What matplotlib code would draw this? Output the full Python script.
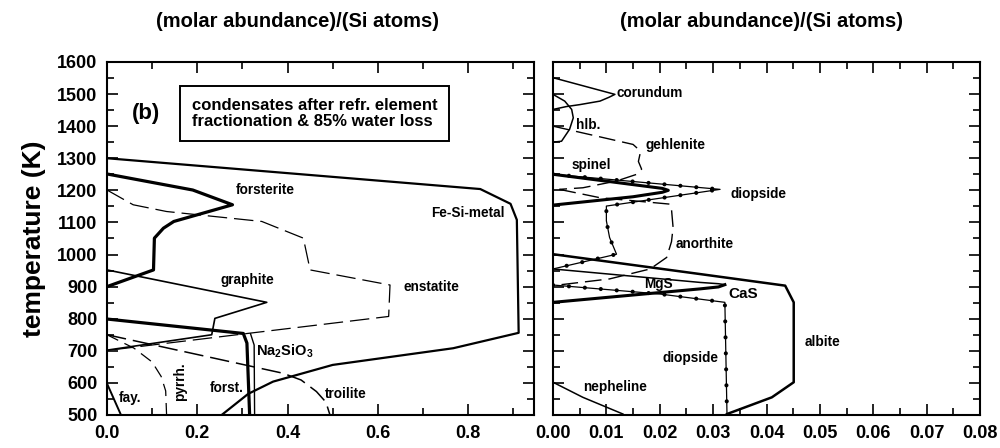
import numpy as np
import matplotlib
matplotlib.use("Agg")
import matplotlib.pyplot as plt
from matplotlib.ticker import MultipleLocator, FormatStrFormatter

plt.rcParams["font.family"] = ["Liberation Sans", "DejaVu Sans"]
plt.rcParams["font.weight"] = "bold"
plt.rcParams["mathtext.fontset"] = "custom"
plt.rcParams["mathtext.bf"] = "Liberation Sans:bold"
plt.rcParams["mathtext.rm"] = "Liberation Sans:bold"
plt.rcParams["lines.scale_dashes"] = False

# ---- left panel: major phases (x = mol / Si, T in K) ----
fesi_x = [0, 0.827, 0.894, 0.908, 0.912, 0.767, 0.50, 0.368, 0.313, 0.254]
fesi_T = [1300, 1204, 1158, 1108, 756, 708, 656, 604, 566, 500]

forst1_x = [0, 0.190, 0.278, 0.148, 0.125, 0.105, 0.103, 0]
forst1_T = [1251, 1201, 1155, 1103, 1082, 1051, 952, 900]

enst_x = [0, 0.058, 0.132, 0.343, 0.435, 0.450, 0.627, 0.624, 0.317, 0]
enst_T = [1201, 1155, 1134, 1103, 1051, 952, 905, 807, 755, 701]

graph_x = [0, 0.354, 0.239, 0.232, 0]
graph_T = [952, 851, 801, 750, 702]

forst2_x = [0, 0.302, 0.310, 0.316]
forst2_T = [799, 754, 724, 500]

na2_x = [0.318, 0.326, 0.327]
na2_T = [753, 718, 500]

troil_x = [0, 0.26, 0.39, 0.43, 0.464, 0.485, 0.494]
troil_T = [750, 670, 630, 609, 573, 540, 500]

pyrrh_x = [0, 0.06, 0.10, 0.12, 0.130, 0.132]
pyrrh_T = [750, 708, 665, 620, 575, 500]

fay_x = [0, 0.031]
fay_T = [598, 500]

# ---- right panel: minor phases ----
cor_x = [0, 0.0116, 0.0105, 0.0088, 0.005, 0.0025, 0]
cor_T = [1551, 1499, 1490, 1478, 1467, 1461, 1452]

hib_x = [0, 0.0022, 0.0035, 0.0038, 0.0031, 0.0016, 0]
hib_T = [1499, 1478, 1452, 1426, 1390, 1353, 1350]

gehl_x = [0, 0.015, 0.016, 0.0163, 0.0160, 0.0166, 0.0157, 0.0119, 0.0056, 0.0012]
gehl_T = [1400, 1343, 1328, 1313, 1290, 1266, 1250, 1229, 1208, 1203]

spin_x = [0, 0.0205, 0.0216, 0.0205, 0.015, 0]
spin_T = [1250, 1206, 1200, 1194, 1180, 1154]

diop1_x = [0, 0.0313, 0.0125, 0.010, 0.010, 0.0106, 0.0119, 0]
diop1_T = [1250, 1203, 1157, 1151, 1105, 1053, 1001, 955]

anor_x = [0.0012, 0.0088, 0.0219, 0.0222, 0.0225, 0.0222, 0.0213, 0.0182, 0.0106, 0]
anor_T = [1203, 1177, 1157, 1141, 1084, 1040, 991, 955, 924, 903]

mgs_x = [0, 0.0276, 0.031, 0.0322]
mgs_T = [955, 913, 909, 906]

cas_x = [0.0322, 0.031, 0.0276, 0]
cas_T = [906, 899, 893, 851]

alb_x = [0, 0.0276, 0.0435, 0.0451, 0.0451, 0.041, 0.0326]
alb_T = [1001, 939, 903, 851, 602, 555, 503]

diop2_x = [0, 0.020, 0.0322, 0.0326]
diop2_T = [905, 877, 851, 500]

neph_x = [0, 0.0056, 0.0131]
neph_T = [602, 555, 503]

fig = plt.figure(figsize=(10, 4.48), dpi=100)
axL = fig.add_axes([0.107, 0.0737, 0.427, 0.788])
axR = fig.add_axes([0.553, 0.0737, 0.427, 0.788])

k = "black"
axL.plot(fesi_x, fesi_T, color=k, lw=1.6)
axL.plot(forst1_x, forst1_T, color=k, lw=2.3)
axL.plot(enst_x, enst_T, color=k, lw=0.9, dashes=(14, 5))
axL.plot(graph_x, graph_T, color=k, lw=1.2)
axL.plot(forst2_x, forst2_T, color=k, lw=2.3)
axL.plot(na2_x, na2_T, color=k, lw=1.0)
axL.plot(troil_x, troil_T, color=k, lw=1.1, dashes=(14, 5))
axL.plot(pyrrh_x, pyrrh_T, color=k, lw=0.9, dashes=(9, 5))
axL.plot(fay_x, fay_T, color=k, lw=1.4)

axR.plot(cor_x, cor_T, color=k, lw=1.1)
axR.plot(hib_x, hib_T, color=k, lw=1.1)
axR.plot(gehl_x, gehl_T, color=k, lw=1.0, dashes=(12, 5))
axR.plot(spin_x, spin_T, color=k, lw=2.2)
axR.plot(anor_x, anor_T, color=k, lw=1.0, dashes=(12, 5))
axR.plot(mgs_x, mgs_T, color=k, lw=1.1)
axR.plot(cas_x, cas_T, color=k, lw=2.2)
axR.plot(alb_x, alb_T, color=k, lw=1.8)
axR.plot(neph_x, neph_T, color=k, lw=1.1)
for dx, dT in [(diop1_x, diop1_T), (diop2_x, diop2_T)]:
    axR.plot(dx, dT, color=k, lw=0.9)
    axR.plot(dx, dT, color=k, lw=3.0, linestyle=(0, (0.01, 11.5)),
             dash_capstyle="round")

lab = dict(fontsize=9.8, fontweight="bold", ha="center", va="center")
axL.text(0.350, 1201, "forsterite", **lab)
axL.text(0.800, 1130, "Fe-Si-metal", **lab)
axL.text(0.310, 921, "graphite", **lab)
axL.text(0.718, 900, "enstatite", **lab)
axL.text(0.395, 697, r"$\mathbf{Na_2SiO_3}$", fontsize=10.5, ha="center", va="center")
axL.text(0.051, 552, "fay.", **lab)
axL.text(0.162, 604, "pyrrh.", rotation=90, **lab)
axL.text(0.265, 585, "forst.", **lab)
axL.text(0.528, 565, "troilite", **lab)
axL.text(0.087, 1440, "(b)", fontsize=16, fontweight="bold", ha="center", va="center")
axL.text(0.188, 1440, "condensates after refr. element\nfractionation & 85% water loss",
         fontsize=12, fontweight="bold", ha="left", va="center", linespacing=1.1,
         bbox=dict(boxstyle="square,pad=0.7", fc="white", ec="black", lw=1.4))

axR.text(0.0182, 1504, "corundum", **lab)
axR.text(0.0066, 1405, "hlb.", **lab)
axR.text(0.0229, 1340, "gehlenite", **lab)
axR.text(0.0072, 1278, "spinel", **lab)
axR.text(0.0385, 1190, "diopside", **lab)
axR.text(0.0285, 1032, "anorthite", **lab)
axR.text(0.0197, 907, "MgS", **lab)
axR.text(0.0357, 877, "CaS", fontsize=11, fontweight="bold", ha="center", va="center")
axR.text(0.0504, 727, "albite", **lab)
axR.text(0.0257, 678, "diopside", **lab)
axR.text(0.0116, 587, "nepheline", **lab)

for ax in (axL, axR):
    ax.set_ylim(500, 1600)
    ax.yaxis.set_major_locator(MultipleLocator(100))
    ax.yaxis.set_minor_locator(MultipleLocator(50))
    ax.tick_params(which="both", direction="in", top=True, right=True, width=1.2,
                   labelsize=13)
    ax.tick_params(which="major", length=8, pad=7)
    ax.tick_params(which="minor", length=5)
    for s in ax.spines.values():
        s.set_linewidth(1.5)

axL.set_xlim(0, 0.946)
axL.xaxis.set_major_locator(MultipleLocator(0.2))
axL.xaxis.set_minor_locator(MultipleLocator(0.1))
axL.xaxis.set_major_formatter(FormatStrFormatter("%.1f"))
axL.set_ylabel("temperature (K)", fontsize=19, fontweight="bold", labelpad=8)

axR.set_xlim(0, 0.08)
axR.xaxis.set_major_locator(MultipleLocator(0.01))
axR.xaxis.set_minor_locator(MultipleLocator(0.005))
axR.xaxis.set_major_formatter(FormatStrFormatter("%.2f"))
axR.tick_params(labelleft=False)

for ax in (axL, axR):
    for t in ax.get_xticklabels() + ax.get_yticklabels():
        t.set_fontweight("bold")

fig.text(0.297, 0.953, "(molar abundance)/(Si atoms)", fontsize=14.5, fontweight="bold",
         ha="center", va="center")
fig.text(0.762, 0.953, "(molar abundance)/(Si atoms)", fontsize=14.5, fontweight="bold",
         ha="center", va="center")

fig.savefig("out.png", dpi=100)
